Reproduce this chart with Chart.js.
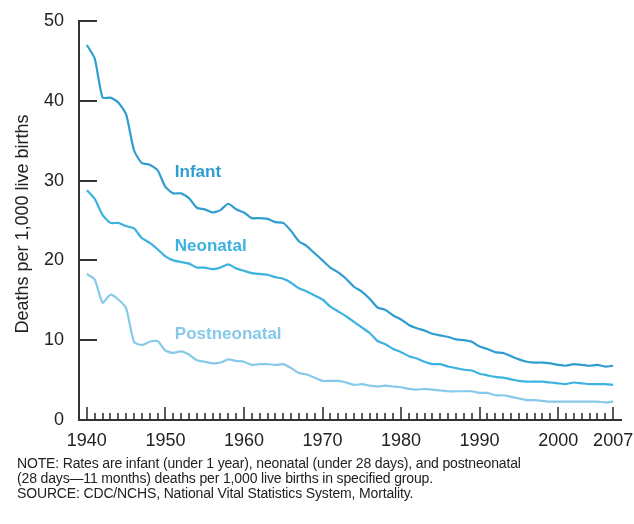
<!DOCTYPE html>
<html>
<head>
<meta charset="utf-8">
<script src="https://cdn.jsdelivr.net/npm/chart.js@4"></script>
<style>
  html, body { margin: 0; padding: 0; background: #fff; }
  #wrap { position: relative; width: 634px; height: 524px; }
  #note {
    position: absolute; left: 17px; top: 456px;
    font: 14px "Liberation Sans", Arial, sans-serif;
    line-height: 15px; letter-spacing: -0.15px; color: #222;
  }
</style>
</head>
<body>
<div id="wrap">
  <canvas id="chart" width="634" height="524"></canvas>
  <div id="note">
    NOTE: Rates are infant (under 1 year), neonatal (under 28 days), and postneonatal<br>
    (28 days—11 months) deaths per 1,000 live births in specified group.<br>
    SOURCE: CDC/NCHS, National Vital Statistics System, Mortality.
  </div>
</div>
<script>
// years 1940 - 2007
const years = [];
for (let y = 1940; y <= 2007; y++) years.push(y);

const infant = [
  47.0, 45.3, 40.4, 40.4, 39.8, 38.3, 33.8, 32.2, 32.0, 31.3,
  29.2, 28.4, 28.4, 27.8, 26.6, 26.4, 26.0, 26.3, 27.1, 26.4,
  26.0, 25.3, 25.3, 25.2, 24.8, 24.7, 23.7, 22.4, 21.8, 20.9,
  20.0, 19.1, 18.5, 17.7, 16.7, 16.1, 15.2, 14.1, 13.8, 13.1,
  12.6, 11.9, 11.5, 11.2, 10.8, 10.6, 10.4, 10.1, 10.0, 9.8,
  9.2, 8.9, 8.5, 8.4, 8.0, 7.6, 7.3, 7.2, 7.2, 7.1,
  6.9, 6.8, 7.0, 6.9, 6.8, 6.9, 6.7, 6.8
];
const neonatal = [
  28.8, 27.7, 25.7, 24.7, 24.7, 24.3, 24.0, 22.8, 22.2, 21.4,
  20.5, 20.0, 19.8, 19.6, 19.1, 19.1, 18.9, 19.1, 19.5, 19.0,
  18.7, 18.4, 18.3, 18.2, 17.9, 17.7, 17.2, 16.5, 16.1, 15.6,
  15.1, 14.2, 13.6, 13.0, 12.3, 11.6, 10.9, 9.9, 9.5, 8.9,
  8.5, 8.0, 7.7, 7.3, 7.0, 7.0, 6.7, 6.5, 6.3, 6.2,
  5.8, 5.6, 5.4, 5.3, 5.1, 4.9, 4.8, 4.8, 4.8, 4.7,
  4.6, 4.5, 4.7, 4.6, 4.5, 4.5, 4.5, 4.4
];
const postneonatal = [
  18.3, 17.6, 14.7, 15.7, 15.1, 14.0, 9.8, 9.4, 9.8, 9.9,
  8.7, 8.4, 8.6, 8.2, 7.5, 7.3, 7.1, 7.2, 7.6, 7.4,
  7.3, 6.9, 7.0, 7.0, 6.9, 7.0, 6.5, 5.9, 5.7, 5.3,
  4.9, 4.9, 4.9, 4.7, 4.4, 4.5, 4.3, 4.2, 4.3, 4.2,
  4.1, 3.9, 3.8, 3.9, 3.8, 3.7, 3.6, 3.6, 3.6, 3.6,
  3.4, 3.4, 3.1, 3.1, 2.9, 2.7, 2.5, 2.5, 2.4, 2.3,
  2.3, 2.3, 2.3, 2.3, 2.3, 2.3, 2.2, 2.3
];

const xTickLabels = [1940, 1950, 1960, 1970, 1980, 1990, 2000, 2007];
const yTickLabels = [0, 10, 20, 30, 40, 50];

const seriesNames = ['Infant', 'Neonatal', 'Postneonatal'];
const seriesColors = ['#2f9dd0', '#3bb2df', '#86c9e8'];
// where the in-chart series names sit, in data units (year, rate)
const labelAt = [[1951.2, 31.0], [1951.2, 21.8], [1951.2, 10.7]];

const FONT = '"Liberation Sans", Arial, sans-serif';
const AXIS = '#333';

function toPoints(vals) {
  return vals.map((v, i) => ({ x: years[i], y: v }));
}

// inward tick marks, series names, y title
const extras = {
  id: 'extras',
  afterDraw(chart) {
    const ctx = chart.ctx;
    const xs = chart.scales.x, ys = chart.scales.y;
    const bottom = chart.chartArea.bottom, left = chart.chartArea.left;
    ctx.save();
    ctx.strokeStyle = AXIS;
    ctx.lineWidth = 2;
    ctx.beginPath();
    yTickLabels.forEach(v => {
      const py = Math.round(ys.getPixelForValue(v));
      ctx.moveTo(left, py);
      ctx.lineTo(left + 18, py);
    });
    ctx.stroke();
    ctx.lineWidth = 1.6;
    ctx.beginPath();
    years.forEach(yr => {
      const px = Math.round(xs.getPixelForValue(yr));
      const big = yr % 10 === 0 || yr === 2007;
      ctx.moveTo(px, bottom);
      ctx.lineTo(px, bottom - (big ? 13 : 7));
    });
    ctx.stroke();

    ctx.font = 'bold 17px ' + FONT;
    ctx.textAlign = 'left';
    ctx.textBaseline = 'middle';
    seriesNames.forEach((name, i) => {
      ctx.fillStyle = seriesColors[i];
      ctx.fillText(name, xs.getPixelForValue(labelAt[i][0]), ys.getPixelForValue(labelAt[i][1]));
    });

    ctx.translate(23, 224);
    ctx.rotate(-Math.PI / 2);
    ctx.textAlign = 'center';
    ctx.fillStyle = '#222';
    ctx.font = '18px ' + FONT;
    ctx.fillText('Deaths per 1,000 live births', 0, 0);
    ctx.restore();
  }
};

new Chart(document.getElementById('chart'), {
  type: 'line',
  data: {
    datasets: [
      { label: seriesNames[0], data: toPoints(infant), borderColor: seriesColors[0] },
      { label: seriesNames[1], data: toPoints(neonatal), borderColor: seriesColors[1] },
      { label: seriesNames[2], data: toPoints(postneonatal), borderColor: seriesColors[2] }
    ]
  },
  options: {
    responsive: false,
    animation: false,
    layout: { padding: { top: 21, right: 13, left: 0, bottom: 0 } },
    elements: {
      line: { borderWidth: 2.2, tension: 0.2, fill: false },
      point: { radius: 0 }
    },
    plugins: {
      legend: { display: false },
      tooltip: { enabled: false }
    },
    scales: {
      x: {
        type: 'linear',
        min: 1939.0,
        max: 2008.0,
        afterBuildTicks: s => { s.ticks = xTickLabels.map(v => ({ value: v })); },
        afterFit: s => { s.height = 104; s.paddingLeft = 0; s.paddingRight = 0; },
        grid: { display: false, drawTicks: false },
        border: { display: true, color: AXIS, width: 2 },
        ticks: {
          autoSkip: false, maxRotation: 0, padding: 10,
          color: '#222', font: { family: FONT, size: 18 },
          callback: v => String(v)
        }
      },
      y: {
        min: 0,
        max: 50,
        afterBuildTicks: s => { s.ticks = yTickLabels.map(v => ({ value: v })); },
        afterFit: s => { s.width = 79; s.paddingTop = 0; s.paddingBottom = 0; },
        grid: { display: false, drawTicks: false },
        border: { display: true, color: AXIS, width: 2 },
        ticks: { padding: 15, color: '#222', font: { family: FONT, size: 18 } }
      }
    }
  },
  plugins: [extras]
});
</script>
</body>
</html>
